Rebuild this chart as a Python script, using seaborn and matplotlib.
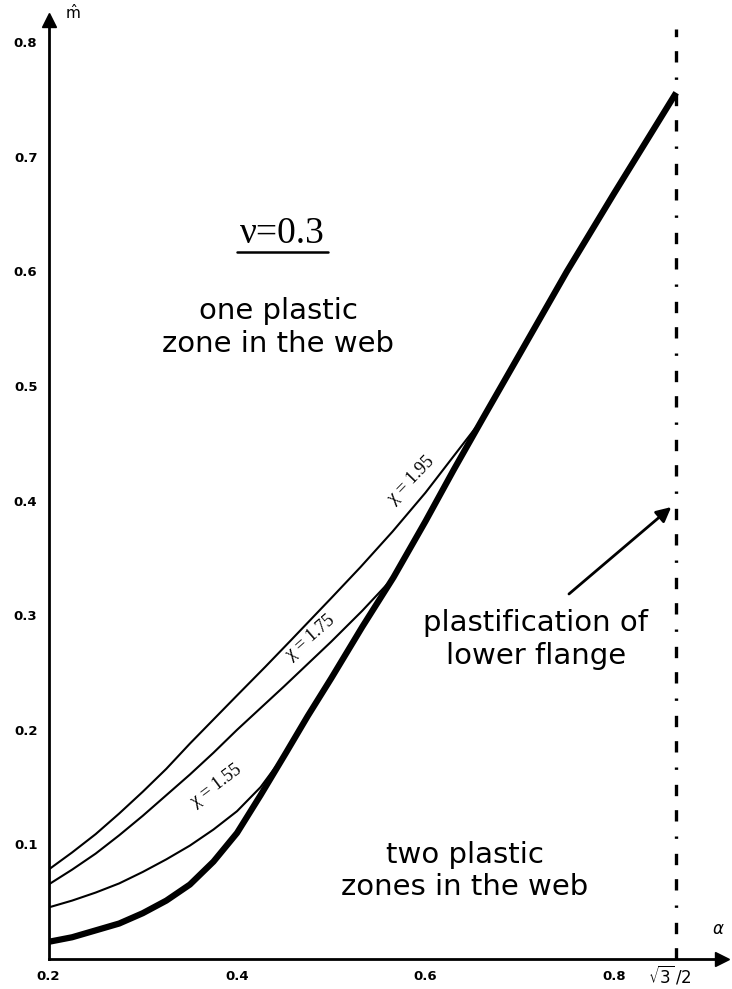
import numpy as np
import pandas as pd
import seaborn as sns
import matplotlib.pyplot as plt

# values
alpha_lim = np.sqrt(3) / 2

alpha_thick = [0.200, 0.225, 0.250, 0.275, 0.300, 0.325, 0.350, 0.375, 0.400, 0.425, 0.452,
               0.475, 0.500, 0.533, 0.566, 0.600, 0.630, 0.661, 0.700, 0.750, 0.800, 0.866]
m_thick = [0.015, 0.019, 0.025, 0.031, 0.040, 0.051, 0.065, 0.085, 0.110, 0.143, 0.180,
           0.212, 0.245, 0.290, 0.333, 0.382, 0.427, 0.472, 0.528, 0.600, 0.668, 0.756]

alpha_155 = [0.200, 0.225, 0.250, 0.275, 0.300, 0.325, 0.350, 0.375, 0.400, 0.425, 0.452]
m_155 = [0.045, 0.051, 0.058, 0.066, 0.076, 0.087, 0.099, 0.113, 0.129, 0.150, 0.180]

alpha_175 = [0.200, 0.225, 0.250, 0.275, 0.300, 0.325, 0.350, 0.375, 0.400, 0.450, 0.500, 0.533, 0.566]
m_175 = [0.065, 0.078, 0.092, 0.108, 0.125, 0.143, 0.161, 0.180, 0.200, 0.238, 0.277, 0.304, 0.333]

alpha_195 = [0.200, 0.225, 0.250, 0.275, 0.300, 0.325, 0.350, 0.375, 0.400, 0.430, 0.457,
             0.500, 0.531, 0.565, 0.600, 0.630, 0.661]
m_195 = [0.078, 0.093, 0.109, 0.127, 0.146, 0.166, 0.188, 0.209, 0.230, 0.255, 0.278,
         0.315, 0.342, 0.373, 0.407, 0.439, 0.472]

x_ticks = [0.2, 0.4, 0.6, 0.8]
y_ticks = [0.1, 0.2, 0.3, 0.4, 0.5, 0.6, 0.7, 0.8]

sns.set_style("white")
plt.rcParams['font.family'] = ['DejaVu Sans']
plt.rcParams['text.color'] = 'black'
plt.rcParams['xtick.color'] = 'black'
plt.rcParams['ytick.color'] = 'black'

fig = plt.figure(figsize=(7.32, 9.89), dpi=100)
ax = fig.add_axes([0.0663, 0.0303, 0.920, 0.9494])

thin = pd.concat([
    pd.DataFrame({'alpha': alpha_155, 'm': m_155, 'chi': '1.55'}),
    pd.DataFrame({'alpha': alpha_175, 'm': m_175, 'chi': '1.75'}),
    pd.DataFrame({'alpha': alpha_195, 'm': m_195, 'chi': '1.95'}),
])
sns.lineplot(data=thin, x='alpha', y='m', units='chi', estimator=None, sort=False,
             color='black', lw=1.5, ax=ax)
sns.lineplot(x=alpha_thick, y=m_thick, estimator=None, sort=False,
             color='black', lw=4.5, solid_capstyle='butt', solid_joinstyle='round', ax=ax)

# plastification limit of lower flange: dash, dash, dot
ax.axvline(alpha_lim, ymin=0, ymax=0.99, color='black', lw=2.4,
           linestyle=(0, (3.4, 4.2, 3.4, 4.5, 0.7, 4.5)), dash_capstyle='butt')

ax.set_xlim(0.2, 0.9146)
ax.set_ylim(0, 0.8194)
ax.set_xticks(x_ticks)
ax.set_xticklabels([str(t) for t in x_ticks])
ax.set_yticks(y_ticks)
ax.set_yticklabels([str(t) for t in y_ticks])
ax.tick_params(direction='inout', length=8, width=2, labelsize=9.5, pad=4)
for lab in ax.get_xticklabels() + ax.get_yticklabels():
    lab.set_fontweight('bold')
ax.set_xlabel('')
ax.set_ylabel('')

for s in ['top', 'right']:
    ax.spines[s].set_visible(False)
for s in ['left', 'bottom']:
    ax.spines[s].set_linewidth(2)
    ax.spines[s].set_color('black')

# axis arrowheads
ax.plot(1, 0, '>k', ms=10, transform=ax.get_yaxis_transform(), clip_on=False)
ax.plot(0.2, 1, '^k', ms=10, transform=ax.get_xaxis_transform(), clip_on=False)
ax.text(0.036, 0.998, r'$\hat{\mathrm{m}}$', transform=ax.transAxes, fontsize=11, ha='center', va='bottom')
ax.text(0.994, 0.022, r'$\alpha$', transform=ax.transAxes, fontsize=12, ha='center', va='bottom')
ax.text(0.859, -0.017, r'$\sqrt{3}\,/2$', transform=ax.get_xaxis_transform(), fontsize=12,
        ha='center', va='center')

# curve labels
serif = 'Liberation Serif'
ax.text(0.378, 0.151, 'χ = 1.55', family=serif, fontsize=13, rotation=37, ha='center', va='center')
ax.text(0.4775, 0.281, 'χ = 1.75', family=serif, fontsize=13, rotation=41, ha='center', va='center')
ax.text(0.585, 0.418, 'χ = 1.95', family=serif, fontsize=13, rotation=46, ha='center', va='center')

ax.text(0.347, 0.7625, 'ν=0.3', family=serif, fontsize=27, ha='center', va='baseline',
        transform=ax.transAxes)
ax.plot([0.280, 0.415], [0.753, 0.753], color='black', lw=1.8, transform=ax.transAxes)

ax.text(0.4435, 0.551, 'one plastic\nzone in the web', fontsize=21, ha='center', va='center')
ax.text(0.642, 0.077, 'two plastic\nzones in the web', fontsize=21, ha='center', va='center')
ax.text(0.717, 0.279, 'plastification of\nlower flange', fontsize=21, ha='center', va='center')
ax.annotate('', xy=(0.863, 0.396), xytext=(0.750, 0.317),
            arrowprops=dict(arrowstyle='-|>', color='black', lw=2, mutation_scale=22))

fig.savefig('out.png', dpi=100)
